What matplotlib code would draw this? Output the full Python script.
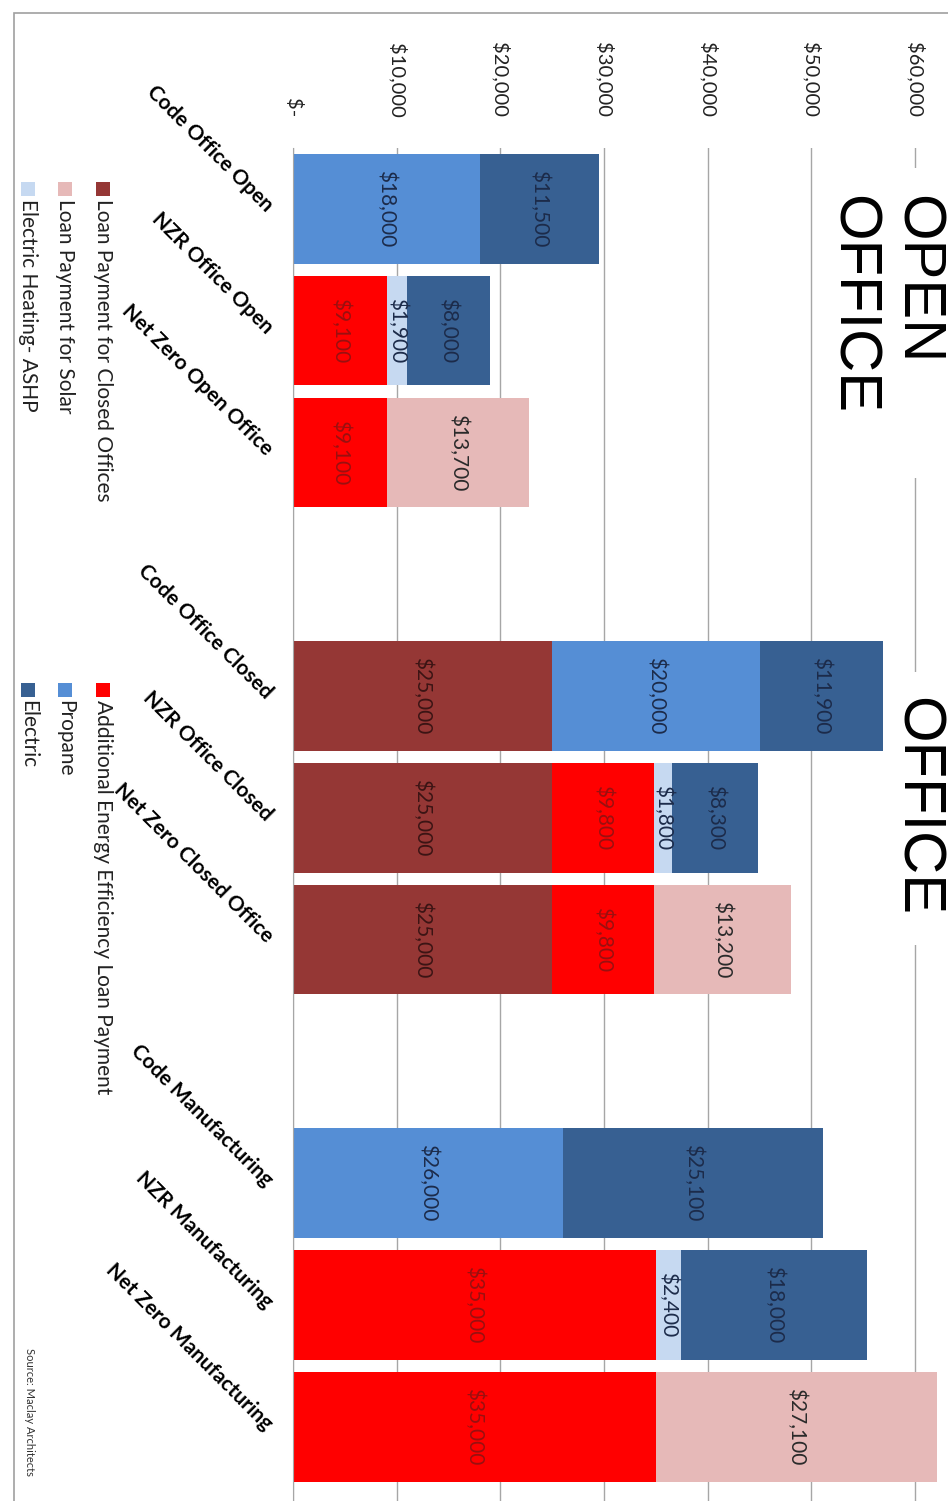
import numpy as np
import matplotlib.pyplot as plt
from matplotlib.patches import Rectangle

plt.rcParams['font.family'] = ['Lato', 'DejaVu Sans']

# categories (blank slots separate the three building groups)
categories = ['Code Office Open', 'NZR Office Open', 'Net Zero Open Office', '',
              'Code Office Closed', 'NZR Office Closed', 'Net Zero Closed Office', '',
              'Code Manufacturing', 'NZR Manufacturing', 'Net Zero Manufacturing']

closed_loan = [0, 0, 0, 0, 25000, 25000, 25000, 0, 0, 0, 0]
additional_loan = [0, 9100, 9100, 0, 0, 9800, 9800, 0, 0, 35000, 35000]
propane = [18000, 0, 0, 0, 20000, 0, 0, 0, 26000, 0, 0]
ashp = [0, 1900, 0, 0, 0, 1800, 0, 0, 0, 2400, 0]
solar_loan = [0, 0, 13700, 0, 0, 0, 13200, 0, 0, 0, 27100]
electric = [11500, 8000, 0, 0, 11900, 8300, 0, 0, 25100, 18000, 0]

tick_values = [0, 10000, 20000, 30000, 40000, 50000, 60000]
tick_labels = ['$-', '$10,000', '$20,000', '$30,000', '$40,000', '$50,000', '$60,000']

stack = [
    ('Loan Payment for Closed Offices', closed_loan, '#953735', '#3b1414'),
    ('Additional Energy Efficiency Loan Payment', additional_loan, '#ff0000', '#9a1010'),
    ('Propane', propane, '#558ed5', '#1c2b4a'),
    ('Electric Heating- ASHP', ashp, '#c6d9f1', '#1c2b4a'),
    ('Loan Payment for Solar', solar_loan, '#e6b9b8', '#2a2a2a'),
    ('Electric', electric, '#376092', '#1c2b4a'),
]
# legend layout (rotated): column 1 then column 2
legend_order = ['Loan Payment for Closed Offices', 'Loan Payment for Solar', 'Electric Heating- ASHP',
                'Additional Energy Efficiency Loan Payment', 'Propane', 'Electric']

W, H = 948, 1501
fig = plt.figure(figsize=(W / 100, H / 100), dpi=100)
ax = fig.add_axes([293 / W, 0, 655 / W, 1 - 148 / H])

y = np.arange(len(categories))
left = np.zeros(len(categories))
colors = {}
for name, vals, col, tcol in stack:
    vals = np.array(vals, dtype=float)
    bars = ax.barh(y, vals, left=left, height=0.9, color=col, label=name, zorder=2)
    labs = [f'${v:,.0f}' if v > 0 else '' for v in vals]
    ax.bar_label(bars, labels=labs, label_type='center', rotation=-90,
                 color=tcol, fontsize=15)
    left += vals
    colors[name] = col

ax.set_xlim(0, 63180)
ax.set_ylim(10.61, -0.5)
ax.set_xticks(tick_values, labels=tick_labels)
ax.tick_params(axis='x', top=True, labeltop=True, bottom=False, labelbottom=False,
               length=0, pad=22, labelrotation=-90, labelsize=14.5, labelcolor='#222222')
ax.tick_params(axis='y', length=0, pad=17)
ax.set_yticks(y, labels=categories)
for lbl in ax.get_yticklabels():
    lbl.set(rotation=-45, rotation_mode='anchor', ha='right', va='center',
            fontweight='bold', fontsize=15)
ax.grid(axis='x', color='#a6a6a6', lw=1)
ax.set_axisbelow(True)
for s in ['top', 'right', 'bottom']:
    ax.spines[s].set_visible(False)
ax.spines['left'].set_color('#a6a6a6')

# chart border
fig.add_artist(Rectangle((14 / W, -0.1), 1.2, 1.1 - 13 / H, transform=fig.transFigure,
                         fill=False, edgecolor='#a0a0a0', lw=1.2))

# white boxes behind group titles
fig.add_artist(Rectangle((826 / W, 1 - 478 / H), 122 / W, 310 / H, transform=fig.transFigure,
                         facecolor='white', edgecolor='none', zorder=3))
fig.add_artist(Rectangle((892 / W, 1 - 945 / H), 56 / W, 273 / H, transform=fig.transFigure,
                         facecolor='white', edgecolor='none', zorder=3))
tkw = dict(rotation=-90, rotation_mode='anchor', ha='left', va='baseline',
           fontsize=43, family='Liberation Sans', zorder=4)
fig.text(901 / W, 1 - 195 / H, 'OPEN', **tkw)
fig.text(837 / W, 1 - 195 / H, 'OFFICE', **tkw)
fig.text(901 / W, 1 - 697 / H, 'OFFICE', **tkw)

# legend drawn rotated
col_y = [182, 683]
row_x = [103, 65, 28]
for i, name in enumerate(legend_order):
    cx = row_x[i % 3]
    ty = col_y[i // 3]
    fig.add_artist(Rectangle(((cx - 7) / W, 1 - (ty + 14) / H), 14 / W, 14 / H,
                             transform=fig.transFigure, facecolor=colors[name], edgecolor='none'))
    fig.text(cx / W, 1 - (ty + 17) / H, name, rotation=-90, rotation_mode='anchor',
             ha='left', va='center', fontsize=15, color='#222222')

fig.text(29 / W, 1 - 1348 / H, 'Source: Maclay Architects', rotation=-90, rotation_mode='anchor',
         ha='left', va='center', fontsize=8, color='#333333')

fig.savefig('out.png', dpi=100)
